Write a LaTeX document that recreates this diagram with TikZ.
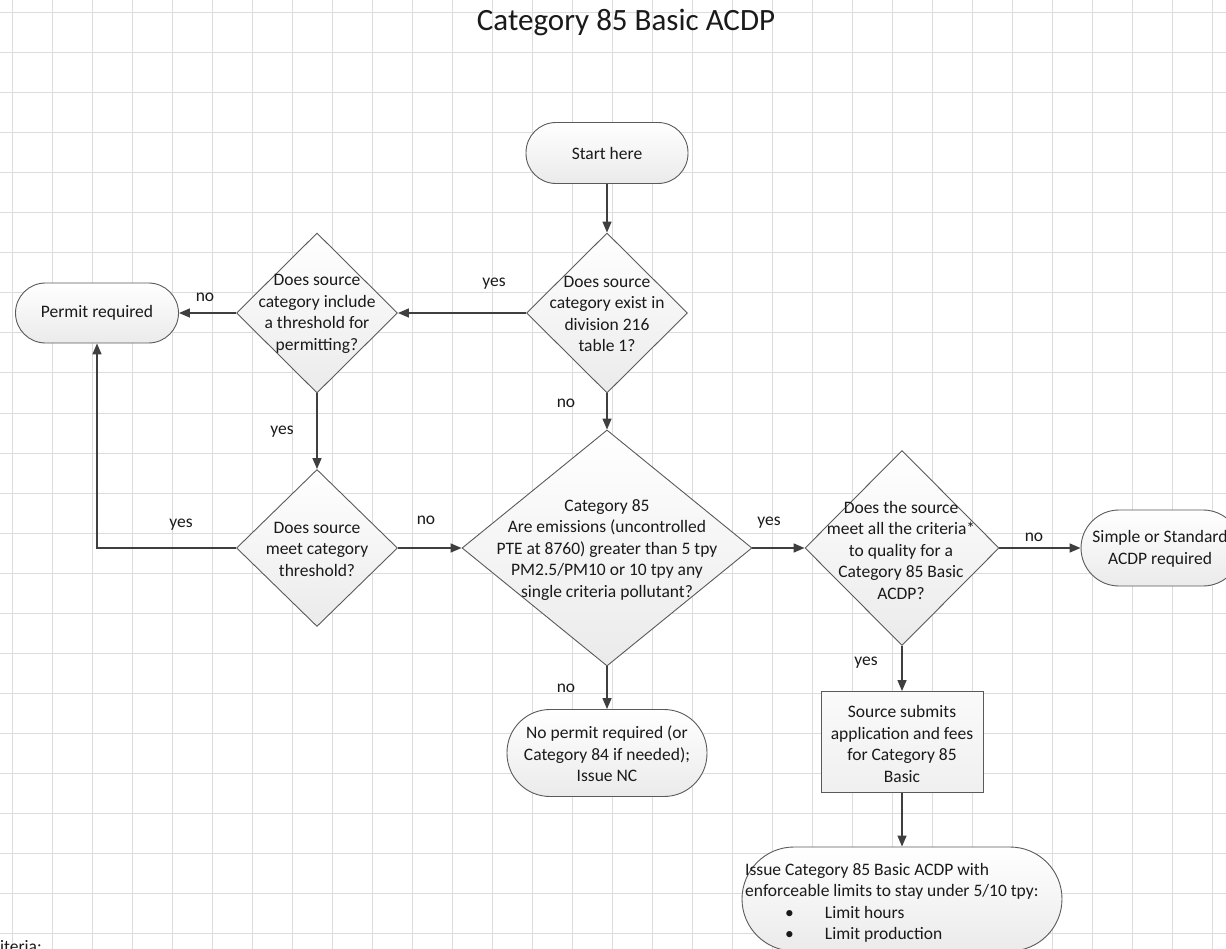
\documentclass[tikz,border=0pt]{standalone}
\usepackage{fontspec}
\setmainfont{Carlito}
\usetikzlibrary{shapes.geometric,arrows.meta}
\definecolor{linegray}{HTML}{3F3F3F}
\definecolor{shapegray}{HTML}{5A5A5A}
\definecolor{gridgray}{HTML}{DCDCDC}
\definecolor{textgray}{HTML}{1A1A1A}
\begin{document}
\begin{tikzpicture}[x=1pt,y=-1pt,
  every node/.style={font=\fontsize{17.5}{21.5}\selectfont, inner sep=0pt, text=textgray},
  shp/.style={draw=shapegray, line width=0.9pt, top color=white, bottom color=gray!16},
  termbox/.style={shp, rectangle},
  dia/.style={shp, diamond, aspect=1},
  procbox/.style={shp, rectangle, top color=gray!4, bottom color=gray!12},
  txt/.style={align=center},
  lbl/.style={},
  arr/.style={draw=linegray, line width=1.4pt, -{Triangle[length=11pt,width=9pt]}},
  gridline/.style={draw=gridgray, line width=1pt}]
\useasboundingbox (0,0) rectangle (1226,949);
\clip (0,0) rectangle (1226,949);
\fill[white] (0,0) rectangle (1226,949);
\foreach \x in {12,52,...,1212} \draw[gridline] (\x,0) -- (\x,949);
\foreach \y in {13,53,...,933} \draw[gridline] (0,\y) -- (1226,\y);

\node[font=\fontsize{31}{36}\selectfont, anchor=base] (title) at (626,31) {Category 85 Basic ACDP};

% shapes
\node[termbox, rounded corners=30pt, minimum width=162pt, minimum height=61pt] (start) at (607,153) {Start here};
\node[dia, minimum width=161pt, minimum height=160pt] (d1) at (607,313) {};
\node[txt] (d1t) at (607,314) {Does source\\category exist in\\division 216\\table 1?};
\node[dia, minimum width=161pt, minimum height=160pt] (d2) at (317,313) {};
\node[txt] (d2t) at (317,314) {Does source\\category include\\a threshold for\\permitting?};
\node[termbox, rounded corners=30pt, minimum width=163pt, minimum height=60pt] (permit) at (97,313) {Permit required};
\node[dia, minimum width=161pt, minimum height=157pt] (d3) at (317,548) {};
\node[txt] (d3t) at (317,549) {Does source\\meet category\\threshold?};
\node[dia, minimum width=290pt, minimum height=236pt] (d4) at (607,548) {};
\node[txt] (d4t) at (607,550) {Category 85\\Are emissions (uncontrolled\\PTE at 8760) greater than 5 tpy\\PM2.5/PM10 or 10 tpy any\\single criteria pollutant?};
\node[dia, minimum width=194pt, minimum height=195pt] (d5) at (902,548) {};
\node[txt] (d5t) at (901,550) {Does the source\\meet all the criteria*\\to quality for a\\Category 85 Basic\\ACDP?};
\node[termbox, rounded corners=38pt, minimum width=160pt, minimum height=76pt] (simple) at (1161,548) {};
\node[txt] (simplet) at (1160,549) {Simple or Standard\\ACDP required};
\node[termbox, rounded corners=43pt, minimum width=200pt, minimum height=87pt] (nop) at (607,753) {};
\node[txt] (nopt) at (607,754) {No permit required (or\\Category 84 if needed);\\Issue NC};
\node[procbox, minimum width=162pt, minimum height=101pt] (sub) at (902,742) {};
\node[txt] (subt) at (902,744) {Source submits\\application and fees\\for Category 85\\Basic};
\node[termbox, rounded corners=52pt, minimum width=320pt, minimum height=104pt] (fin) at (902,899) {};
\node[align=left, anchor=west] (fint) at (745,903) {Issue Category 85 Basic ACDP with\\enforceable limits to stay under 5/10 tpy:\\\hspace*{40pt}\textbullet\hspace*{31pt}Limit hours\\\hspace*{40pt}\textbullet\hspace*{31pt}Limit production};

% connectors
\draw[arr] (start.south) -- (d1.north);
\draw[arr] (d1.west) -- (d2.east);
\draw[arr] (d2.west) -- (permit.east);
\draw[arr] (d2.south) -- (d3.north);
\draw[arr] (d3.west) -| (permit.south);
\draw[arr] (d3.east) -- (d4.west);
\draw[arr] (d1.south) -- (d4.north);
\draw[arr] (d4.east) -- (d5.west);
\draw[arr] (d5.east) -- (simple.west);
\draw[arr] (d5.south) -- (sub.north);
\draw[arr] (sub.south) -- (fin.north);
\draw[arr] (d4.south) -- (nop.north);

% labels
\node[lbl] (l1) at (494,284) {yes};
\node[lbl] (l2) at (205,297) {no};
\node[lbl] (l3) at (282,432) {yes};
\node[lbl] (l4) at (181,525) {yes};
\node[lbl] (l5) at (426,520) {no};
\node[lbl] (l6) at (566,403) {no};
\node[lbl] (l7) at (769,523) {yes};
\node[lbl] (l8) at (1034,537) {no};
\node[lbl] (l9) at (866,663) {yes};
\node[lbl] (l10) at (566,688) {no};

\node[anchor=base east] (crit) at (42,952) {Criteria:};
\end{tikzpicture}
\end{document}
